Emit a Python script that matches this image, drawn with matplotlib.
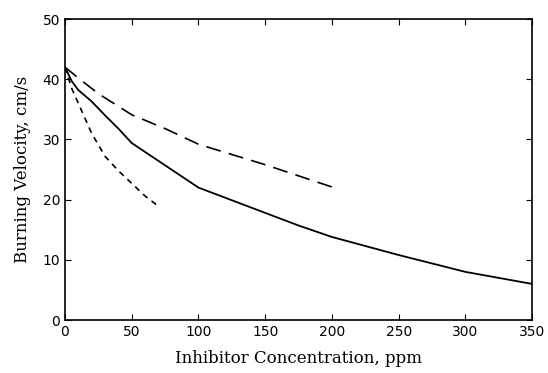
import matplotlib
matplotlib.use("Agg")
import matplotlib.pyplot as plt

# inhibitor concentration (ppm) vs burning velocity (cm/s)
solid_x = [0, 5, 10, 20, 30, 40, 50, 75, 100, 125, 150, 175, 200, 250, 300, 350]
solid_y = [42, 39.7, 38.2, 36.3, 34.0, 31.8, 29.4, 25.7, 22.0, 19.9, 17.8, 15.7, 13.8, 10.8, 8.0, 6.0]

dashed_x = [0, 10, 25, 50, 75, 100, 150, 200]
dashed_y = [42, 40.2, 37.6, 34.1, 31.8, 29.2, 25.8, 22.1]

dotted_x = [0, 5, 10, 20, 30, 40, 50, 60, 70]
dotted_y = [42, 38.5, 36.0, 31.0, 27.2, 24.8, 22.7, 20.6, 18.9]

fig = plt.figure(figsize=(5.48, 3.73), dpi=100)
ax = fig.add_axes([0.1186, 0.142, 0.8524, 0.807])

ax.plot(solid_x, solid_y, color="black", lw=1.3)
ax.plot(dashed_x, dashed_y, color="black", lw=1.2, dashes=(9, 5))
ax.plot(dotted_x, dotted_y, color="black", lw=1.2, dashes=(3.5, 3))

ax.set_xlim(0, 350)
ax.set_ylim(0, 50)
ax.set_xticks(range(0, 351, 50))
ax.set_yticks(range(0, 51, 10))
ax.tick_params(direction="in", top=True, right=True, length=4, labelsize=10)
for s in ax.spines.values():
    s.set_linewidth(1.2)

ax.set_xlabel("Inhibitor Concentration, ppm", family="DejaVu Serif", fontsize=12, labelpad=8)
ax.set_ylabel("Burning Velocity, cm/s", family="DejaVu Serif", fontsize=12, labelpad=8)

fig.savefig("out.png", dpi=100)
